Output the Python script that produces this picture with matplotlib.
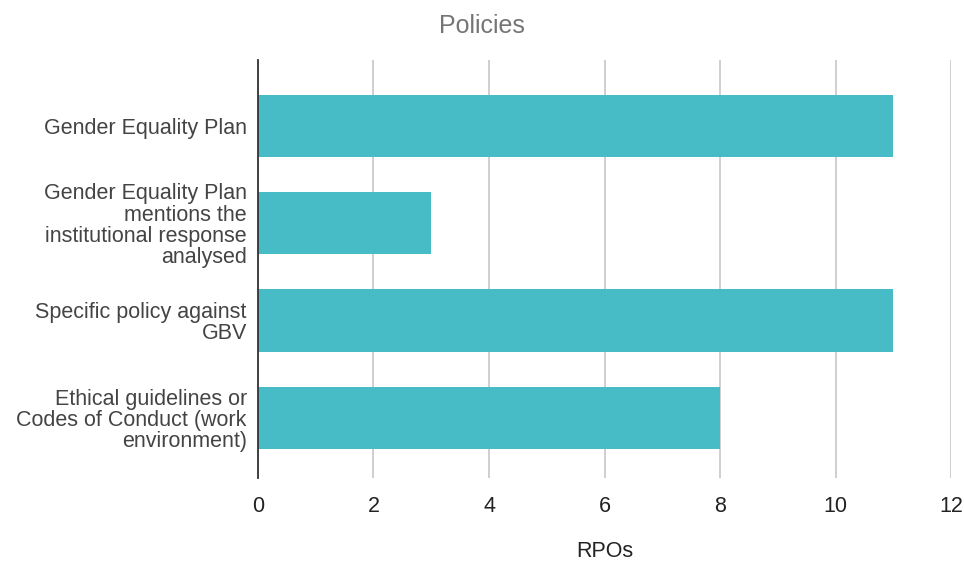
import matplotlib.pyplot as plt

# данные
categories = [
    "Gender Equality Plan",
    "Gender Equality Plan\nmentions the\ninstitutional response\nanalysed",
    "Specific policy against\nGBV",
    "Ethical guidelines or\nCodes of Conduct (work\nenvironment)",
]
values = [11, 3, 11, 8]

plt.rcParams['font.family'] = ['Liberation Sans', 'DejaVu Sans']

fig = plt.figure(figsize=(9.64, 5.65), dpi=100, facecolor='white')
ax = fig.add_axes([0.2676, 0.154, 0.719, 0.740])

pos = list(range(len(categories)))
ax.barh(pos, values, height=0.64, color='#47bbc6', zorder=3)

ax.set_xlim(0, 12)
ax.set_ylim(3.617, -0.678)
ax.set_xticks(range(0, 13, 2))
ax.set_yticks(pos)
ax.set_yticklabels(categories, fontsize=15.5, color='#444444', linespacing=1.02)

# сетка и оси
ax.grid(axis='x', color='#cccccc', linewidth=1.3, zorder=0)
for s in ['top', 'right', 'bottom']:
    ax.spines[s].set_visible(False)
ax.spines['left'].set_color('#333333')
ax.spines['left'].set_linewidth(1.3)
ax.spines['left'].set_zorder(4)
ax.tick_params(axis='both', length=0)
ax.tick_params(axis='x', labelsize=15.5, colors='#222222', pad=13)
ax.tick_params(axis='y', pad=8)

ax.set_xlabel('RPOs', fontsize=15.5, color='#222222', labelpad=17)
fig.text(0.5, 0.954, 'Policies', ha='center', va='center', fontsize=18, color='#757575')

fig.savefig('out.png', dpi=100, facecolor='white')
